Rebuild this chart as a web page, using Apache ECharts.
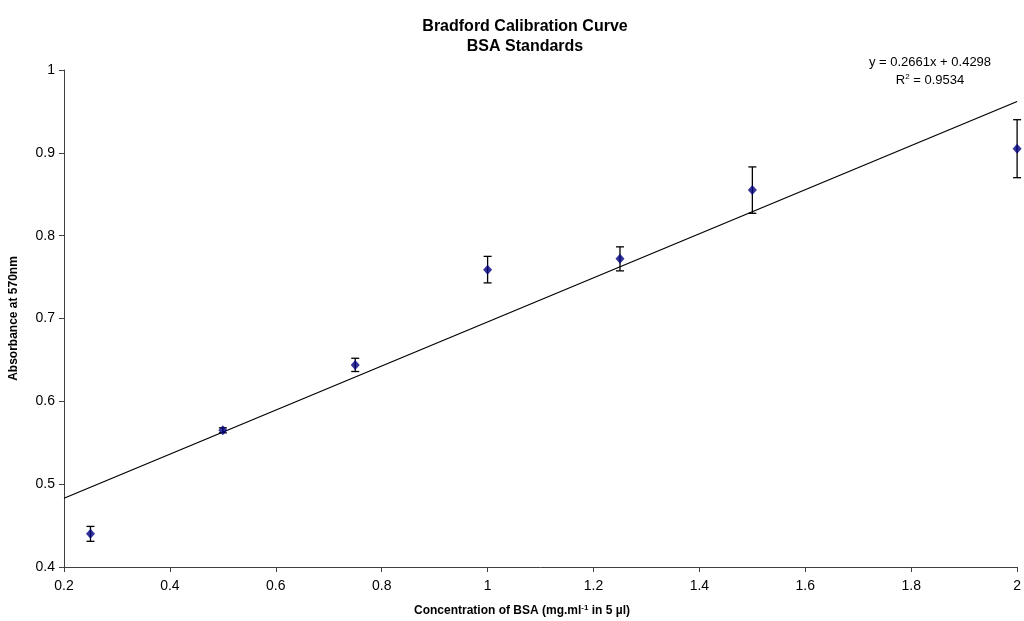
<!DOCTYPE html>
<html><head><meta charset="utf-8">
<script src="https://cdn.jsdelivr.net/npm/echarts@6/dist/echarts.min.js"></script>
<style>html,body{margin:0;padding:0;background:#fff}#c{width:1024px;height:621px}</style>
</head><body><div id="c"></div>
<script>
const concentrations = [0.25, 0.5, 0.75, 1.0, 1.25, 1.5, 2.0];
const absorbance = [0.440, 0.565, 0.644, 0.759, 0.772, 0.855, 0.905];
const errors = [0.009, 0.003, 0.008, 0.016, 0.0145, 0.028, 0.035];
const trendX = [0.2, 2.0];
const trendY = [0.483, 0.962];
const equationText = 'y = 0.2661x + 0.4298';
const r2Value = '0.9534';

const font = 'Liberation Sans, Arial, sans-serif';
const chart = echarts.init(document.getElementById('c'));
const pts = concentrations.map((x, i) => [x, absorbance[i]]);
const errData = concentrations.map((x, i) => [x, absorbance[i] - errors[i], absorbance[i] + errors[i]]);
chart.setOption({
  animation: false,
  backgroundColor: '#fff',
  title: {
    text: 'Bradford Calibration Curve\nBSA Standards',
    left: 520, textAlign: 'center', top: 12,
    textStyle: {fontFamily: font, fontSize: 16, fontWeight: 'bold', color: '#000', lineHeight: 20}
  },
  grid: {left: 62, right: 2, top: 70, bottom: 54, containLabel: false},
  xAxis: {
    type: 'value', min: 0.2, max: 2, interval: 0.2,
    axisLine: {lineStyle: {color: '#404040', width: 1}},
    axisTick: {show: true, inside: false, length: 5, lineStyle: {color: '#404040'}},
    axisLabel: {fontFamily: font, fontSize: 14, color: '#000', margin: 12},
    splitLine: {show: false}
  },
  yAxis: {
    type: 'value', min: 0.4, max: 1, interval: 0.1,
    name: 'Absorbance at 570nm', nameLocation: 'middle', nameGap: 44, nameRotate: 90,
    nameTextStyle: {fontFamily: font, fontSize: 12, fontWeight: 'bold', color: '#000'},
    axisLine: {show: true, lineStyle: {color: '#404040', width: 1}},
    axisTick: {show: true, inside: false, length: 5, lineStyle: {color: '#404040'}},
    axisLabel: {fontFamily: font, fontSize: 14, color: '#000', margin: 9},
    splitLine: {show: false}
  },
  graphic: [{
    type: 'text', x: 930, y: 62, z: 10,
    style: {text: equationText, fontFamily: font, fontSize: 13, fill: '#000', align: 'center', verticalAlign: 'middle'}
  }, {
    type: 'text', x: 930, y: 80, z: 10,
    style: {text: '{a|R}{s|2}{a| = ' + r2Value + '}', align: 'center', verticalAlign: 'middle',
      rich: {a: {fontFamily: font, fontSize: 13, fill: '#000'},
             s: {fontFamily: font, fontSize: 8, fill: '#000', verticalAlign: 'top', padding: [0,0,7,0]}}}
  }, {
    type: 'text', x: 522, y: 611, z: 10,
    style: {text: '{a|Concentration of BSA (mg.ml}{s|-1}{a| in 5 µl)}', align: 'center', verticalAlign: 'middle',
      rich: {a: {fontFamily: font, fontSize: 12, fontWeight: 'bold', fill: '#000'},
             s: {fontFamily: font, fontSize: 8, fontWeight: 'bold', fill: '#000', verticalAlign: 'top', padding: [0,0,7,0]}}}
  }],
  series: [{
    type: 'line', data: trendX.map((x, i) => [x, trendY[i]]),
    symbol: 'none', lineStyle: {color: '#000', width: 1.3}, z: 2, silent: true
  }, {
    type: 'custom', data: errData, z: 3,
    renderItem: function (params, api) {
      const x = api.value(0);
      const lo = api.coord([x, api.value(1)]);
      const hi = api.coord([x, api.value(2)]);
      const w = 4;
      const st = {stroke: '#000', lineWidth: 1.3};
      return {type: 'group', children: [
        {type: 'line', shape: {x1: lo[0], y1: lo[1], x2: hi[0], y2: hi[1]}, style: st},
        {type: 'line', shape: {x1: lo[0]-w, y1: lo[1], x2: lo[0]+w, y2: lo[1]}, style: st},
        {type: 'line', shape: {x1: hi[0]-w, y1: hi[1], x2: hi[0]+w, y2: hi[1]}, style: st}
      ]};
    }
  }, {
    type: 'scatter', data: pts, symbol: 'diamond', symbolSize: [9, 10],
    itemStyle: {color: '#000080'}, z: 5
  }]
});
</script></body></html>
